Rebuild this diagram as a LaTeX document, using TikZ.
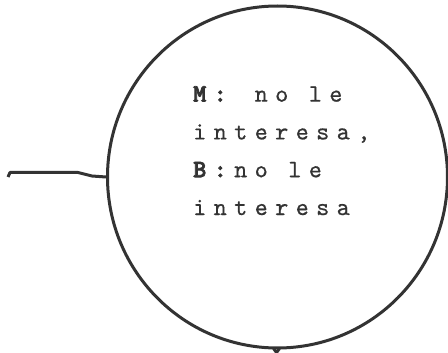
\documentclass[tikz,border=0pt]{standalone}
\usepackage{fontspec}
\usetikzlibrary{shapes.geometric}
\newfontfamily\cmono[LetterSpace=29.5, FakeBold=0.6, BoldFont={lmmonolt10-bold.otf}, BoldFeatures={FakeBold=3}]{lmmono10-regular.otf}
\definecolor{ink}{HTML}{333333}
\tikzset{
  bubble/.style={draw=ink, line width=3pt, ellipse, minimum width=340pt, minimum height=342pt, inner sep=0pt},
  link/.style={draw=ink, line width=3pt, line join=round},
  label/.style={text=ink, inner sep=0pt, align=left, font=\cmono\fontsize{25}{37.8}\selectfont}
}
\begin{document}
\begin{tikzpicture}[x=1pt,y=-1pt]
\useasboundingbox (0,0) rectangle (448,353);
\node[bubble] (c) at (277.5,177) {};
\node[label, anchor=base west] (t) at (193,215) {\textbf{M:} no le\\interesa,\\\textbf{B:}no le\\interesa};
\coordinate (s) at (8,177);
\draw[link] (s) -- (10,172.5) -- (78,172.5) -- (92,176) -- (c.west);
\draw[link] (c.south) ++(-4,-1) -- ++(3,4) -- ++(3,-4);
\end{tikzpicture}
\end{document}
